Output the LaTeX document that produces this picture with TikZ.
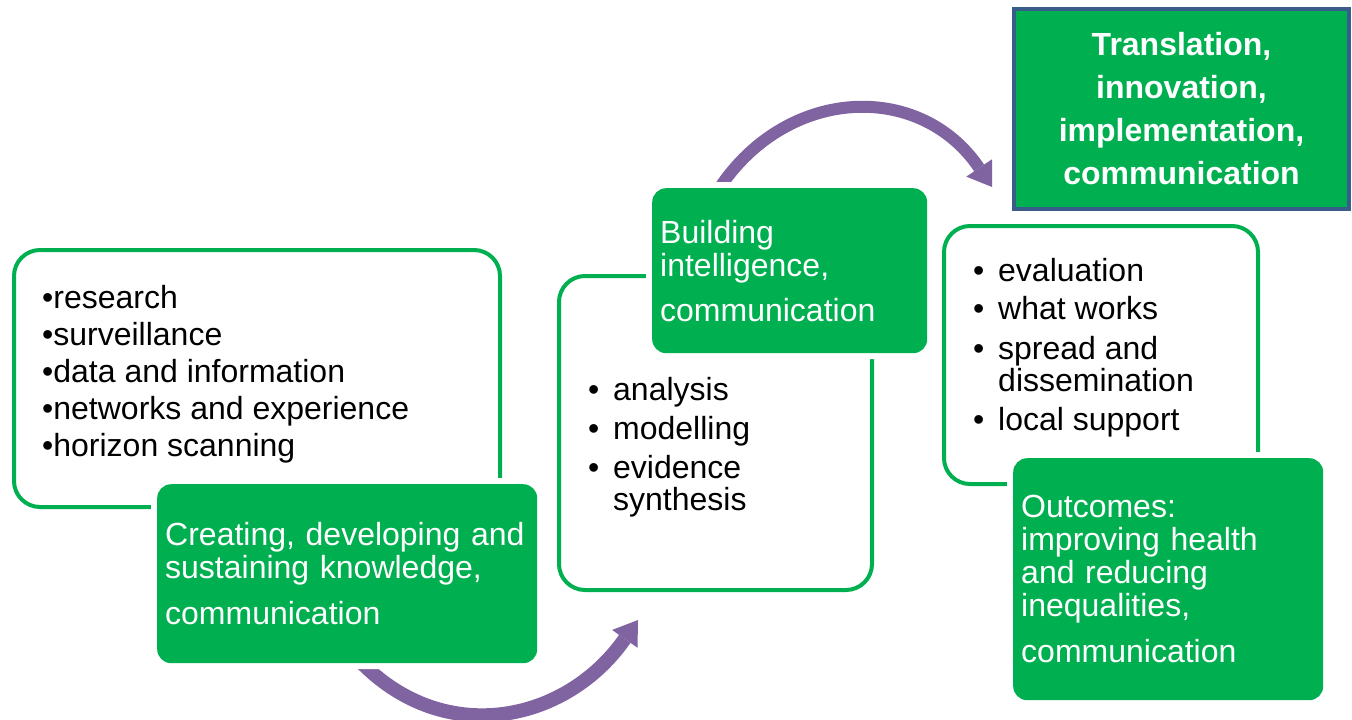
\documentclass[tikz,border=0pt]{standalone}
\usepackage{fontspec}
\setmainfont{Liberation Sans}
\usetikzlibrary{positioning,arrows.meta}
\definecolor{boxgreen}{HTML}{00B050}
\definecolor{flowpurple}{HTML}{8064A2}
\definecolor{edgeblue}{HTML}{385D8A}
\newcommand{\bul}{\makebox[25pt][l]{\textbullet}}
\tikzset{
	listbox/.style={draw=boxgreen,line width=4pt,rounded corners=26pt,anchor=north west,inner sep=0pt},
	listtext/.style={align=left,inner sep=0pt,text=black},
	stagebox/.style={fill=boxgreen,rounded corners=14pt,anchor=north west,preaction={draw=white,line width=12pt},text=white,align=left,inner xsep=8pt,inner ysep=0pt},
	flow/.style={draw=flowpurple,line width=14pt,-{Triangle[length=23pt,width=31pt,line width=0pt]}}
}
\begin{document}
\begin{tikzpicture}[x=1pt,y=1pt]
	    \useasboundingbox[fill=white](0,0) rectangle (1352,-720);
	    \coordinate (knowout) at (350,-650);
	    \coordinate (intelin) at (638,-620);
	    \coordinate (intelout) at (712,-200);
	    \coordinate (transin) at (992,-187);
	    \draw[flow](knowout) to[out=-50,in=235,looseness=1.15] (intelin);
	    \draw[flow,line width=12pt](intelout) to[out=60,in=124,looseness=1.2] (transin);
	    \node[listbox,minimum width=486pt,minimum height=257pt](knowbox) at (12,-248){};
	    \node[listtext,anchor=west,right=30pt of knowbox.west,yshift=4pt,font=\fontsize{32}{37}\selectfont](knowlist){\textbullet research\\\textbullet surveillance\\\textbullet data and information\\\textbullet networks and experience\\\textbullet horizon scanning};
	    \node[listbox,minimum width=313pt,minimum height=314pt](intelbox) at (557,-274){};
	    \node[listtext,anchor=west,right=31pt of intelbox.west,yshift=-14pt,font=\fontsize{32}{32}\selectfont](intellist){\bul analysis\\[7pt]\bul modelling\\[7pt]\bul evidence\\\hspace*{25pt}synthesis};
	    \node[listbox,minimum width=314pt,minimum height=258pt](transbox) at (942,-224){};
	    \node[listtext,anchor=west,right=31pt of transbox.west,yshift=7pt,font=\fontsize{32}{32}\selectfont](translist){\bul evaluation\\[6pt]\bul what works\\[8pt]\bul spread and\\\hspace*{25pt}dissemination\\[7pt]\bul local support};
	    \node[stagebox,text width=364pt,minimum height=179pt,font=\fontsize{32}{33}\selectfont](knowstage) at (157,-484){Creating, developing and\\sustaining knowledge,\\[13pt]communication};
	    \node[stagebox,text width=259pt,minimum height=165pt,font=\fontsize{32}{33}\selectfont](intelstage) at (652,-188){Building\\intelligence,\\[12pt]communication};
	    \node[stagebox,text width=294pt,minimum height=242pt,font=\fontsize{32}{33}\selectfont](outcomestage) at (1013,-458){Outcomes:\\improving health\\and reducing\\inequalities,\\[13pt]communication};
	    \node[draw=edgeblue,line width=4pt,fill=boxgreen,anchor=north west,minimum width=335pt,minimum height=200pt,text width=320pt,align=center,inner sep=0pt,text=white,yshift=3pt,font=\bfseries\fontsize{32}{43}\selectfont](transstage) at (1012,-10){Translation,\\innovation,\\implementation,\\communication};
\end{tikzpicture}
\end{document}
